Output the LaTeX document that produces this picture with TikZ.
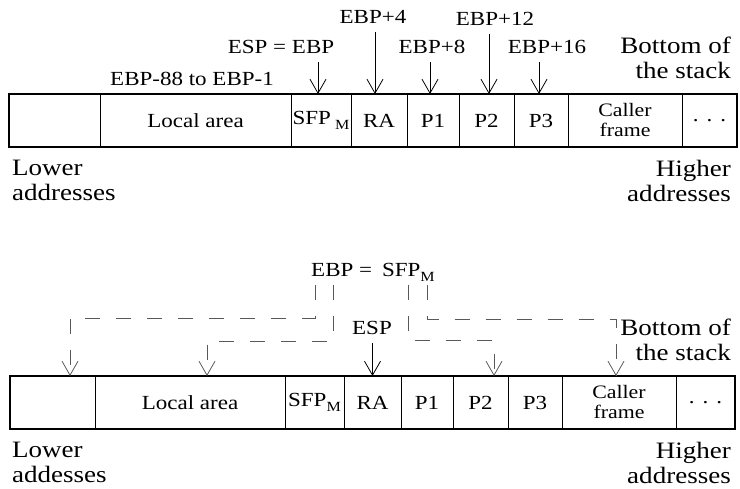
\documentclass[tikz,border=0pt]{standalone}
\usepackage{fontspec}
\setmainfont{Liberation Serif}[FakeStretch=1.15]
\usetikzlibrary{positioning,arrows.meta}

\newcommand{\subM}{\raisebox{-5pt}{\fontsize{14}{14}\selectfont M}}

\tikzset{
  cell/.style={draw, line width=0.8pt, minimum height=53pt, inner sep=0pt,
    outer sep=0pt, font=\fontsize{20}{20}\selectfont},
  lbl/.style={font=\fontsize{20}{22}\selectfont},
  side/.style={font=\fontsize{23.5}{25}\selectfont, inner sep=0pt},
  ptr/.style={-{Straight Barb[length=14pt,width=16pt]}, line width=0.8pt,
    shorten <=5pt},
  link/.style={-{Straight Barb[length=14pt,width=16pt]}, line width=0.8pt,
    black!65, dash pattern=on 15pt off 16pt},
}

\begin{document}
\begin{tikzpicture}[x=1pt,y=-1pt]
  \useasboundingbox (0,0) rectangle (740,489);

  % stack before the call
  \node[cell, minimum width=91pt, anchor=north west] (t0) at (9,94) {};
  \node[cell, minimum width=191pt, right=0pt of t0] (t1) {Local area};
  \node[cell, minimum width=60pt, right=0pt of t1] (t2) {SFP\hspace{4pt}\subM};
  \node[cell, minimum width=56pt, right=0pt of t2] (t3) {RA};
  \node[cell, minimum width=52pt, right=0pt of t3] (t4) {P1};
  \node[cell, minimum width=55pt, right=0pt of t4] (t5) {P2};
  \node[cell, minimum width=54pt, right=0pt of t5] (t6) {P3};
  \node[cell, minimum width=114pt, right=0pt of t6, align=center,
    font=\fontsize{19}{20}\selectfont] (t7) {Caller\\frame};
  \node[cell, minimum width=55pt, right=0pt of t7] (t8) {.\hspace{8pt}.\hspace{8pt}.};
  \draw[line width=1.6pt] (t0.north west) rectangle (t8.south east);

  \node[lbl] (esp) at (281,47) {ESP = EBP};
  \node[lbl] (p4) at (373,17) {EBP+4};
  \node[lbl] (p8) at (432,47) {EBP+8};
  \node[lbl] (p12) at (495,19) {EBP+12};
  \node[lbl] (p16) at (547,47) {EBP+16};
  \node[lbl] (range) at (192,79) {EBP-88 to EBP-1};

  \coordinate (a2) at ([xshift=-3pt]t2.north);
  \coordinate (a3) at ([xshift=-4pt]t3.north);
  \coordinate (a4) at ([xshift=-3pt]t4.north);
  \coordinate (a5) at ([xshift=2.5pt]t5.north);
  \coordinate (a6) at ([xshift=-2pt]t6.north);
  \draw[ptr] (a2 |- esp.south) -- (a2);
  \draw[ptr] (a3 |- p4.south) -- (a3);
  \draw[ptr] (a4 |- p8.south) -- (a4);
  \draw[ptr] (a5 |- p12.south) -- (a5);
  \draw[ptr] (a6 |- p16.south) -- (a6);

  \node[side, align=right, anchor=north east] (bot1) at (731,37) {Bottom of\\the stack};
  \node[side, align=left, anchor=north west] (low1) at (12,160) {Lower\\addresses};
  \node[side, align=right, anchor=north east] (high1) at (731,160) {Higher\\addresses};

  % stack after the frame is set up
  \node[cell, minimum width=85pt, anchor=north west] (b0) at (10,376) {};
  \node[cell, minimum width=190pt, right=0pt of b0] (b1) {Local area};
  \node[cell, minimum width=59pt, right=0pt of b1] (b2) {SFP\subM};
  \node[cell, minimum width=57pt, right=0pt of b2] (b3) {RA};
  \node[cell, minimum width=52pt, right=0pt of b3] (b4) {P1};
  \node[cell, minimum width=55pt, right=0pt of b4] (b5) {P2};
  \node[cell, minimum width=54pt, right=0pt of b5] (b6) {P3};
  \node[cell, minimum width=114pt, right=0pt of b6, align=center,
    font=\fontsize{19}{20}\selectfont] (b7) {Caller\\frame};
  \node[cell, minimum width=59pt, right=0pt of b7] (b8) {.\hspace{8pt}.\hspace{8pt}.};
  \draw[line width=1.6pt] (b0.north west) rectangle (b8.south east);

  \node[lbl] (ebpeq) at (373,272) {EBP =\hspace{10pt}SFP\subM};
  \node[lbl] (esp2) at (372,328) {ESP};
  \draw[ptr] (esp2.south -| b3.north) -- (b3.north);

  % old frame pointer links
  \coordinate (s0) at ([xshift=-58pt]ebpeq.south);
  \coordinate (s1) at ([xshift=-40pt]ebpeq.south);
  \coordinate (s2) at ([xshift=35pt]ebpeq.south);
  \coordinate (s3) at ([xshift=54pt]ebpeq.south);
  \coordinate (d0) at ([xshift=17.5pt]b0.north);
  \coordinate (d1) at ([xshift=17pt]b1.north);
  \coordinate (d5) at ([xshift=13.5pt]b5.north);
  \coordinate (d7) at ([xshift=-3pt]b7.north);
  \draw[link] (s0) |- ([yshift=58pt]d0) -- (d0);
  \draw[link] (s1) |- ([yshift=35pt]d1) -- (d1);
  \draw[link] (s2) |- ([yshift=36pt]d5) -- (d5);
  \draw[link] (s3) |- ([yshift=57pt]d7) -- (d7);

  \node[side, align=right, anchor=north east] (bot2) at (731,319) {Bottom of\\the stack};
  \node[side, align=left, anchor=north west] (low2) at (12,442) {Lower\\addesses};
  \node[side, align=right, anchor=north east] (high2) at (731,442) {Higher\\addresses};
\end{tikzpicture}
\end{document}
